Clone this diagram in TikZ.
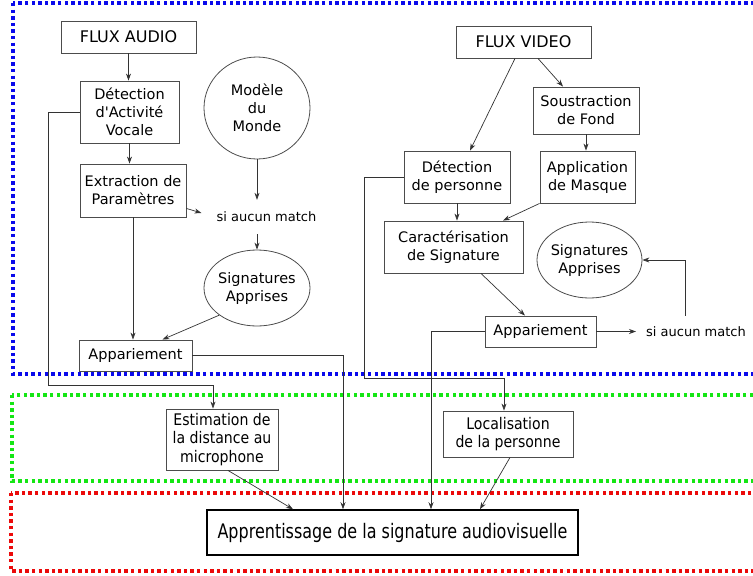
\documentclass[tikz,border=0pt]{standalone}
\usepackage{fontspec}
\setmainfont{DejaVu Sans}[Ligatures=TeXOff]
\newfontfamily\condfont{DejaVu Sans}[FakeStretch=0.88,Ligatures=TeXOff]
\newfontfamily\condfontb{DejaVu Sans}[FakeStretch=0.8,Ligatures=TeXOff]
\usetikzlibrary{arrows.meta,shapes.geometric}
\definecolor{fblue}{RGB}{10,10,235}
\definecolor{fgreen}{RGB}{20,230,20}
\definecolor{fred}{RGB}{235,10,10}
\begin{document}
\begin{tikzpicture}[x=1pt,y=-1pt,
  box/.style={draw=black!70, line width=0.9pt, align=center, inner sep=0pt, font=\fontsize{14.5}{18}\selectfont},
  oval/.style={ellipse, draw=black!70, line width=0.8pt, align=center, inner sep=-10pt, font=\fontsize{14.5}{18}\selectfont},
  lowbox/.style={box, font=\condfont\fontsize{16}{18.5}\selectfont},
  note/.style={inner ysep=0pt, font=\fontsize{13}{15}\selectfont},
  conn/.style={draw=black!80, line width=0.7pt, -{Stealth[length=7pt,width=5pt]}},
  frame/.style={line width=3.6pt, dash pattern=on 3.4pt off 3.2pt}]
\useasboundingbox (0,0) rectangle (753,576);
\clip (0,0) rectangle (753,576);
% frames
\draw[frame, fblue] (13,3) rectangle (775,374);
\draw[frame, fgreen] (12,395) rectangle (775,481);
\draw[frame, fred] (11,493) rectangle (775,571);
% audio side
\node[box, minimum width=135, minimum height=32, font=\fontsize{16}{19}\selectfont] (fa) at (128.5,37) {FLUX AUDIO};
\node[box, minimum width=99, minimum height=62] (dav) at (129.5,112) {Détection\\d'Activité\\Vocale};
\node[box, minimum width=106, minimum height=53] (ext) at (133,190.5) {Extraction de\\Paramètres};
\node[oval, minimum width=106, minimum height=102] (mm) at (257,108) {Modèle\\du\\Monde};
\node[note, inner xsep=15pt, minimum height=34] (si1) at (266.5,217) {si aucun match};
\node[oval, minimum width=106, minimum height=76] (sig1) at (257,288) {Signatures\\Apprises};
\node[box, minimum width=113, minimum height=31] (app1) at (135.5,355.5) {Appariement};
\node[lowbox, minimum width=112, minimum height=61] (est) at (222,439.5) {Estimation de\\la distance au\\microphone};
% video side
\node[box, minimum width=135, minimum height=32, font=\fontsize{16}{19}\selectfont] (fv) at (523.5,42) {FLUX VIDEO};
\node[box, minimum width=106, minimum height=47] (sf) at (586,110.5) {Soustraction\\de Fond};
\node[box, minimum width=106, minimum height=52] (dp) at (457,177) {Détection\\de personne};
\node[box, minimum width=95, minimum height=52] (am) at (587.5,177) {Application\\de Masque};
\node[box, minimum width=139, minimum height=52] (cs) at (453.5,247) {Caractérisation\\de Signature};
\node[oval, minimum width=105, minimum height=76] (sig2) at (589.5,260) {Signatures\\Apprises};
\node[box, minimum width=111, minimum height=31] (app2) at (540.5,331.5) {Appariement};
\node[note, inner xsep=10pt, minimum height=31] (si2) at (696,331.5) {si aucun match};
\node[lowbox, minimum width=130, minimum height=46] (loc) at (508,434) {Localisation\\de la personne};
\node[box, draw=black, line width=1.5pt, minimum width=371, minimum height=45, font=\condfontb\fontsize{20}{24}\selectfont] (appr) at (392.5,532.5) {Apprentissage de la signature audiovisuelle};
% audio connectors
\draw[conn] (fa.south) -- (fa.south |- dav.north);
\draw[conn] (dav.south) -- (dav.south |- ext.north);
\draw[conn] (mm.south) -- (mm.south |- si1.north);
\draw[conn] ([yshift=9pt]ext.south east) -- ([yshift=4pt]si1.west);
\draw[conn] (sig1.north |- si1.south) -- (sig1.north);
\draw[conn] (ext.south) -- (ext.south |- app1.north);
\draw[conn] (sig1.south west) -- ([xshift=27pt]app1.north);
\draw[conn] (app1.east) -| ([xshift=-49.5pt]appr.north);
\draw[conn] (dav.west) -| ++(-31,273) -| ([xshift=-9pt]est.north);
\draw[conn] ([xshift=6pt]est.south) -- ([xshift=-99.5pt]appr.north);
% video connectors
\draw[conn] ([xshift=-8.5pt]fv.south) -- ([xshift=13pt]dp.north);
\draw[conn] ([xshift=14.5pt]fv.south) -- ([xshift=-23pt]sf.north);
\draw[conn] (sf.south) -- (sf.south |- am.north);
\draw[conn] (dp.south) -- (dp.south |- cs.north);
\draw[conn] (am.south west) -- ([xshift=49.5pt]cs.north);
\draw[conn] ([xshift=27.5pt]cs.south) -- ([xshift=-15.5pt]app2.north);
\draw[conn] (app2.east) -- (si2.west);
\draw[conn] ([xshift=-11pt]si2.north) |- (sig2.east);
\draw[conn] (app2.west) -| ([xshift=38.5pt]appr.north);
\draw[conn] (dp.west) -| ++(-39,201) -| ([xshift=-4pt]loc.north);
\draw[conn] ([xshift=2pt]loc.south) -- ([xshift=87.5pt]appr.north);
\end{tikzpicture}
\end{document}
